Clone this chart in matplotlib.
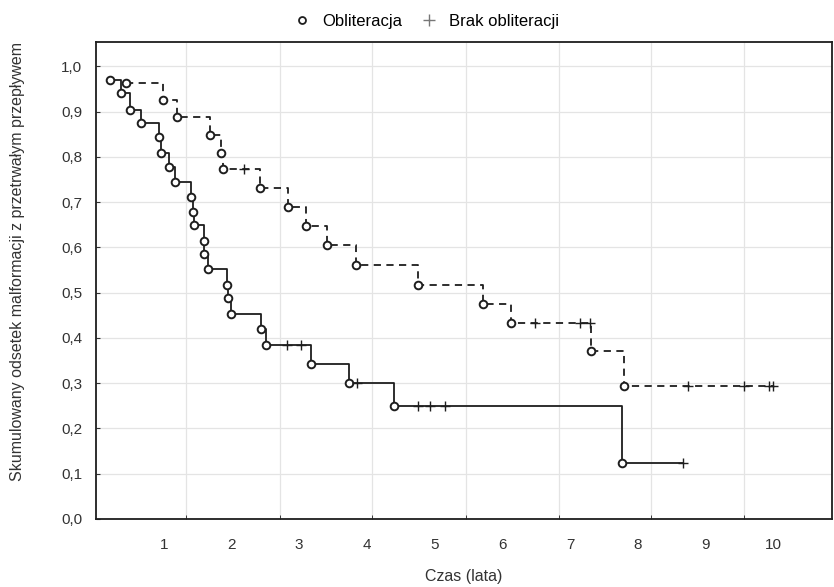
"""Kaplan-Meier style curves: obliteration of malformations over time."""
import numpy as np
import matplotlib
matplotlib.use("Agg")
import matplotlib.pyplot as plt
from matplotlib.lines import Line2D
from matplotlib.ticker import FuncFormatter

plt.rcParams["font.family"] = ["Liberation Sans", "DejaVu Sans"]

# group 1 (solid line): event times and cumulative proportion after each event
SOLID_T = [0.21, 0.37, 0.50, 0.67, 0.93, 0.96, 1.08, 1.17, 1.41, 1.44, 1.45,
           1.59, 1.60, 1.66, 1.93, 1.95, 2.00, 2.43, 2.51, 3.18, 3.74, 4.40, 7.77]
SOLID_S = [0.969, 0.940, 0.903, 0.874, 0.843, 0.808, 0.777, 0.744, 0.711, 0.678,
           0.649, 0.614, 0.585, 0.552, 0.517, 0.488, 0.453, 0.420, 0.384, 0.342,
           0.300, 0.250, 0.124]
SOLID_CENS = [2.82, 3.03, 3.86, 4.76, 4.93, 5.16, 8.67]

# group 2 (dashed line)
DASH_T = [0.45, 0.99, 1.19, 1.68, 1.85, 1.88, 2.42, 2.83, 3.10, 3.41, 3.84,
          4.76, 5.71, 6.13, 7.31, 7.79]
DASH_S = [0.962, 0.925, 0.887, 0.848, 0.808, 0.773, 0.731, 0.689, 0.647, 0.605,
          0.561, 0.517, 0.475, 0.433, 0.371, 0.294]
DASH_CENS = [2.18, 6.48, 7.15, 7.29, 8.74, 9.57, 9.93, 10.0]

X_TICKS = list(range(1, 11))
Y_TICKS = [round(0.1 * i, 1) for i in range(11)]
# vertical grid lines in the source sit off the labelled ticks
X_GRID = [1.335, 2.715, 4.08, 5.46, 6.83, 8.20, 9.57]

INK = "#1e1e1e"


def value_at(times, surv, t):
    i = np.searchsorted(times, t, side="right") - 1
    return surv[max(i, 0)]


def draw_curve(ax, times, surv, cens, ls):
    end = max(cens[-1], times[-1])
    x = list(times) + [end]
    y = list(surv) + [surv[-1]]
    line, = ax.step(x, y, where="post", color=INK, lw=1.3, zorder=3)
    if ls == "dashed":
        line.set_dashes((4, 3))
    ax.plot(times, surv, "o", ms=5.5, mfc="white", mec=INK, mew=1.4, zorder=4)
    cy = [value_at(times, surv, c) for c in cens]
    ax.plot(cens, cy, "+", ms=7, color=INK, mew=1.0, zorder=4)


def main() -> None:
    fig = plt.figure(figsize=(8.34, 5.87), dpi=100)
    ax = fig.add_axes([0.115, 0.116, 0.883, 0.812])

    draw_curve(ax, SOLID_T, SOLID_S, SOLID_CENS, "solid")
    draw_curve(ax, DASH_T, DASH_S, DASH_CENS, "dashed")

    ax.set_xlim(0, 10.87)
    ax.set_ylim(0, 1.053)

    ax.set_xticks(X_TICKS)
    ax.set_xticks(X_GRID, minor=True)
    ax.set_yticks(Y_TICKS)
    ax.yaxis.set_major_formatter(FuncFormatter(lambda v, p: f"{v:.1f}".replace(".", ",")))
    ax.tick_params(axis="x", which="major", length=0, pad=14, labelsize=11, colors="#333333")
    ax.tick_params(axis="x", which="minor", direction="in", length=3, color=INK)
    ax.tick_params(axis="y", direction="in", length=3, pad=10, labelsize=11,
                   colors="#333333")
    ax.grid(False)
    ax.grid(True, axis="x", which="minor", color="#e4e4e4", lw=0.9)
    ax.grid(True, axis="y", which="major", color="#e4e4e4", lw=0.9)
    ax.set_axisbelow(True)
    for sp in ax.spines.values():
        sp.set_color(INK)
        sp.set_linewidth(1.3)

    ax.set_xlabel("Czas (lata)", fontsize=11.5, color="#333333", labelpad=12)
    ax.set_ylabel("Skumulowany odsetek malformacji z przetrwałym przepływem",
                  fontsize=11.5, color="#333333")
    ax.yaxis.set_label_coords(-0.096, 0.54)

    handles = [
        Line2D([], [], ls="none", marker="o", ms=5, mfc="white", mec=INK, mew=1.3),
        Line2D([], [], ls="none", marker="+", ms=8, color="#777777", mew=1.0),
    ]
    fig.legend(handles, ["Obliteracja", "Brak obliteracji"], loc="center",
               bbox_to_anchor=(0.51, 0.963), ncol=2, frameon=False, fontsize=12,
               handletextpad=0.6, columnspacing=1.0, handlelength=1.2)

    fig.savefig("out.png", dpi=100)


if __name__ == "__main__":
    main()
